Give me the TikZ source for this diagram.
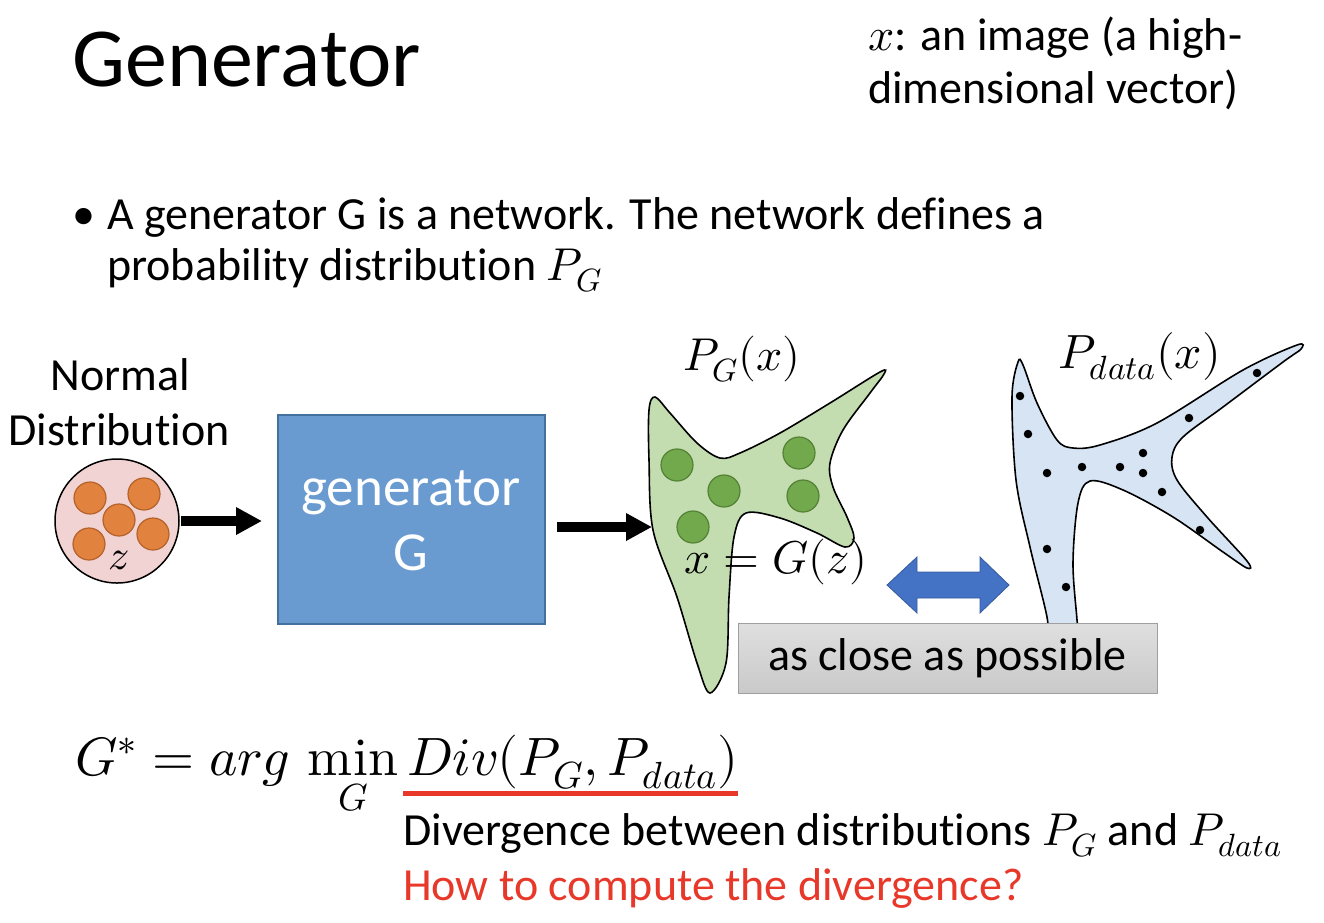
\documentclass[tikz,border=0pt]{standalone}
\usepackage{fontspec}
\usepackage{unicode-math}
\setmainfont{Carlito}[Ligatures=NoCommon]
\setmathfont{Latin Modern Math}
\usetikzlibrary{arrows.meta}
\definecolor{boxblue}{HTML}{6A9BD0}
\definecolor{boxedge}{HTML}{41719C}
\definecolor{gblob}{HTML}{C3DDB0}
\definecolor{gdot}{HTML}{72A94C}
\definecolor{gdotedge}{HTML}{548235}
\definecolor{bblob}{HTML}{D6E4F3}
\definecolor{pinkc}{HTML}{F2D3D3}
\definecolor{orangec}{HTML}{E1823F}
\definecolor{orangee}{HTML}{B5622A}
\definecolor{darrow}{HTML}{4472C4}
\definecolor{redc}{HTML}{E8382A}
\newcommand{\setfs}[1]{\fontsize{#1}{#1}\selectfont}
\tikzset{
  txt/.style={inner sep=0pt, anchor=base west, font=\setfs{46}},
  thickarrow/.style={line width=9.5pt, -{Triangle[length=26pt,width=26pt]}},
  odot/.style={circle, minimum size=32pt, inner sep=0pt, fill=orangec, draw=orangee, line width=1.2pt},
  gdotst/.style={circle, minimum size=32pt, inner sep=0pt, fill=gdot, draw=gdotedge, line width=1.2pt},
  bdot/.style={circle, minimum size=8.5pt, inner sep=0pt, fill=black},
}
\begin{document}
\begin{tikzpicture}[x=1pt,y=-1pt]
\useasboundingbox (0,0) rectangle (1324,922);
% title
\node[inner sep=0pt, anchor=base west, font=\setfs{84}] (title) at (72,86) {Generator};
\node[txt] (note1) at (868,50) {$x$: an image (a high-};
\node[txt] (note2) at (868,103) {dimensional vector)};
% bullet
\node[txt] (bul) at (72,229) {•};
\node[txt] (b1) at (107,229) {A generator G is a network. The network defines a};
\node[txt] (b2) at (107,280) {probability distribution $P_G$};
% normal distribution
\node[inner sep=0pt, anchor=base, font=\setfs{46}] (nd1) at (120,390) {Normal};
\node[inner sep=0pt, anchor=base, font=\setfs{46}] (nd2) at (119,445) {Distribution};
\node[circle, minimum size=124pt, inner sep=0pt, fill=pinkc, draw=black, line width=1.5pt] (zc) at (117,521) {};
\node[odot] (o1) at (90,498) {};
\node[odot] (o2) at (144,494) {};
\node[odot] (o3) at (119,520) {};
\node[odot] (o4) at (89,544) {};
\node[odot] (o5) at (153,534) {};
\node[inner sep=0pt, font=\setfs{42}] (zl) at (119,560) {$\boldsymbol{z}$};
% generator box
\node[draw=boxedge, fill=boxblue, line width=1.5pt, minimum width=267pt, minimum height=209pt, inner sep=0pt] (gen) at (411.5,519.5) {};
\node[inner sep=0pt, anchor=base, text=white, font=\setfs{55}] (gt1) at (411,505) {generator};
\node[inner sep=0pt, anchor=base, text=white, font=\setfs{55}] (gt2) at (411,570) {G};
\coordinate (a1e) at (262,521);
\draw[thickarrow, shorten <=1pt] (zc.east) -- (a1e);
\coordinate (a2s) at (557,527);
\coordinate (a2e) at (652,527);
\draw[thickarrow] (a2s) -- (a2e);
% green blob
\draw[fill=gblob, line width=1.6pt] plot[smooth cycle, tension=0.55] coordinates {
 (655,397) (670,413) (697,443) (720,458) (740,453) (780,433) (830,403) (880,372) (884,374)
 (870,393) (843,430) (830,463) (833,487) (847,517) (854,538) (845,547) (817,533) (780,518)
 (746,513) (734,537) (729,597) (726,663) (710,693) (697,663) (677,597) (653,530) (649,460) (649,410)};
\node[gdotst] (g1) at (677,465) {};
\node[gdotst] (g2) at (724,491) {};
\node[gdotst] (g3) at (693,527) {};
\node[gdotst] (g4) at (799,453) {};
\node[gdotst] (g5) at (803,496) {};
\node[inner sep=0pt, anchor=base, font=\setfs{46}] (pg) at (742,370) {$P_G(x)$};
\node[inner sep=0pt, anchor=base, font=\setfs{46}] (xg) at (776,573) {$x = G(z)$};
% blue blob
\draw[fill=bblob, line width=1.6pt] plot[smooth cycle, tension=0.55] coordinates {
 (1018,362) (1023,365) (1037,403) (1057,440) (1073,448) (1100,445) (1157,423) (1243,370)
 (1297,345) (1301,349) (1283,362) (1223,407) (1183,437) (1172,457) (1177,480) (1207,517)
 (1247,561) (1247,568) (1223,552) (1173,517) (1123,490) (1090,481) (1078,503) (1073,563)
 (1077,620) (1079,650) (1050,650) (1047,617) (1030,547) (1016,480) (1012,397)};
\foreach \p [count=\i] in {(1020,396),(1028,434),(1047,473),(1082,467),(1120,467),(1143,453),(1143,473),(1162,492),(1189,418),(1257,373),(1200,530),(1047,549),(1066,587)}
  \node[bdot] (d\i) at \p {};
\node[inner sep=0pt, anchor=base, font=\setfs{48}] (pd) at (1140,368) {$P_{data}(x)$};
% double arrow
\draw[fill=darrow, draw=darrow!80!black, line width=0.8pt] (887,585) -- (917,557) -- (917,572) -- (980,572) -- (980,557) -- (1009,585) -- (980,613) -- (980,598) -- (917,598) -- (917,613) -- cycle;
% gray box
\node[draw=gray!75, top color=gray!25, bottom color=gray!42, line width=1pt, minimum width=419pt, minimum height=70pt, inner sep=0pt, font=\setfs{46}] (close) at (947.5,658) {as close as possible};
% formula
\node[inner sep=0pt, anchor=base west, font=\setfs{54}] (form) at (75,775) {$G^* = arg\,\mathop{\symup{min}}\limits_G Div(P_G, P_{data})$};
\coordinate (ul1) at (403,793);
\coordinate (ul2) at (738,793);
\draw[redc, line width=5pt] (ul1) -- (ul2);
\node[txt] (div) at (403,845) {Divergence between distributions $P_G$ and $P_{data}$};
\node[txt, text=redc] (how) at (403,900) {How to compute the divergence?};
\end{tikzpicture}
\end{document}
